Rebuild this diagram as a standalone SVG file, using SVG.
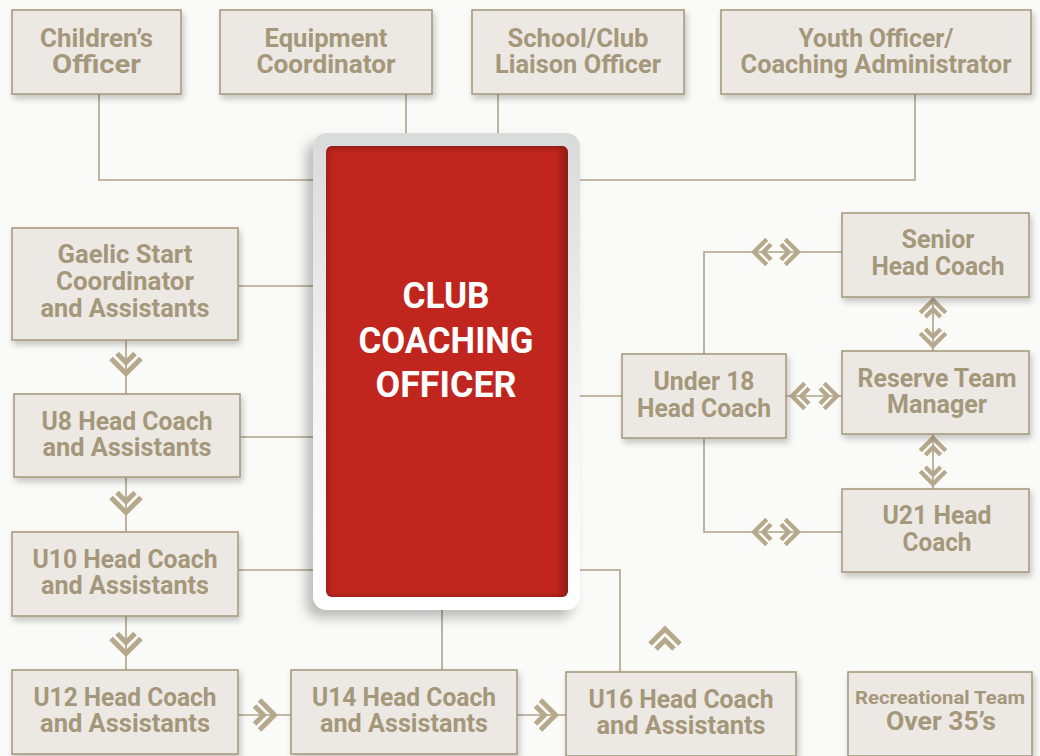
<svg xmlns="http://www.w3.org/2000/svg" width="1040" height="756" viewBox="0 0 1040 756">
<defs>
<style>
.bx{fill:#ECE9E4;stroke:#A89A7E;stroke-width:1.6;filter:url(#sh)}
.t{font-family:Roboto,"Liberation Sans",sans-serif;font-weight:700;font-size:25px;fill:#A5977A;text-anchor:middle}
.ts{font-size:19px}
.ct{font-family:Roboto,"Liberation Sans",sans-serif;font-weight:700;font-size:36px;fill:#FFFFFF;text-anchor:middle}
.ln{fill:none;stroke:#B0A388;stroke-width:1.6}
.ch{fill:none;stroke:#B5A88B;stroke-width:5;stroke-linejoin:miter;stroke-miterlimit:4}
</style>
<filter id="sh" x="-10%" y="-10%" width="125%" height="135%">
<feDropShadow dx="2" dy="4" stdDeviation="3" flood-color="#000" flood-opacity="0.22"/>
</filter>
<filter id="sh2" x="-20%" y="-10%" width="130%" height="125%">
<feDropShadow dx="-7" dy="8" stdDeviation="6" flood-color="#000" flood-opacity="0.25"/>
</filter>
<linearGradient id="gOut" x1="0" y1="0" x2="0" y2="1">
<stop offset="0" stop-color="#D9DADA"/>
<stop offset="0.55" stop-color="#F4F4F4"/>
<stop offset="1" stop-color="#FFFFFF"/>
</linearGradient>
<linearGradient id="gRed" x1="0" y1="0" x2="1" y2="0">
<stop offset="0" stop-color="#A61F19"/>
<stop offset="0.03" stop-color="#C1261E"/>
<stop offset="0.95" stop-color="#C1261E"/>
<stop offset="1" stop-color="#8E1C16"/>
</linearGradient>
<linearGradient id="gRedV" x1="0" y1="0" x2="0" y2="1">
<stop offset="0" stop-color="#7E1712" stop-opacity="0.7"/>
<stop offset="0.02" stop-color="#C1261E" stop-opacity="0"/>
<stop offset="0.985" stop-color="#C1261E" stop-opacity="0"/>
<stop offset="1" stop-color="#7E1712" stop-opacity="0.5"/>
</linearGradient>
<g id="chev" class="ch">
<polyline points="-15,-15 0,0 -15,15"/>
<polyline points="-20,-9 -11,0 -20,9"/>
</g>
</defs>
<rect x="0" y="0" width="1040" height="756" fill="#FAFAF8"/>

<g id="connectors">
<path class="ln" d="M99,94 V180 H313"/>
<path class="ln" d="M406,94 V133"/>
<path class="ln" d="M498,94 V133"/>
<path class="ln" d="M915,94 V180 H580"/>
<path class="ln" d="M238,286 H313"/>
<path class="ln" d="M240,437 H313"/>
<path class="ln" d="M238,570 H313"/>
<path class="ln" d="M580,396 H622"/>
<path class="ln" d="M580,570 H620 V672"/>
<path class="ln" d="M442,610 V670"/>
<path class="ln" d="M126,340 V394"/>
<path class="ln" d="M126,477 V532"/>
<path class="ln" d="M126,616 V670"/>
<path class="ln" d="M238,715 H291"/>
<path class="ln" d="M517,715 H566"/>
<path class="ln" d="M704,354 V252 H842"/>
<path class="ln" d="M704,438 V532 H842"/>
<path class="ln" d="M786,396 H842"/>
<path class="ln" d="M933,297 V351"/>
<path class="ln" d="M933,434 V489"/>
<use href="#chev" transform="translate(126,373.5) rotate(90)"/>
<use href="#chev" transform="translate(126,512.5) rotate(90)"/>
<use href="#chev" transform="translate(126,653.5) rotate(90)"/>
<use href="#chev" transform="translate(274.5,715)"/>
<use href="#chev" transform="translate(555.5,715)"/>
<use href="#chev" transform="translate(665,629) rotate(-90)"/>
<use href="#chev" transform="translate(754,252) rotate(180) scale(0.85)"/>
<use href="#chev" transform="translate(798,252) scale(0.85)"/>
<use href="#chev" transform="translate(754,532) rotate(180) scale(0.85)"/>
<use href="#chev" transform="translate(798,532) scale(0.85)"/>
<use href="#chev" transform="translate(792,396) rotate(180) scale(0.85)"/>
<use href="#chev" transform="translate(837,396) scale(0.85)"/>
<use href="#chev" transform="translate(933,300) rotate(-90) scale(0.85)"/>
<use href="#chev" transform="translate(933,346) rotate(90) scale(0.85)"/>
<use href="#chev" transform="translate(933,438) rotate(-90) scale(0.85)"/>
<use href="#chev" transform="translate(933,484) rotate(90) scale(0.85)"/>
</g>

<g id="n-childrens">
<rect class="bx" x="12" y="10" width="169" height="84"/>
<text class="t" x="96.5" y="47" textLength="113" lengthAdjust="spacingAndGlyphs">Children’s</text>
<text class="t" x="96.5" y="73" textLength="89" lengthAdjust="spacingAndGlyphs">Officer</text>
</g>
<g id="n-equipment">
<rect class="bx" x="220" y="10" width="212" height="84"/>
<text class="t" x="326" y="47" textLength="123" lengthAdjust="spacingAndGlyphs">Equipment</text>
<text class="t" x="326" y="73" textLength="139" lengthAdjust="spacingAndGlyphs">Coordinator</text>
</g>
<g id="n-school">
<rect class="bx" x="472" y="10" width="212" height="84"/>
<text class="t" x="578" y="47" textLength="141" lengthAdjust="spacingAndGlyphs">School/Club</text>
<text class="t" x="578" y="73" textLength="166" lengthAdjust="spacingAndGlyphs">Liaison Officer</text>
</g>
<g id="n-youth">
<rect class="bx" x="721" y="10" width="310" height="84"/>
<text class="t" x="876" y="47" textLength="155" lengthAdjust="spacingAndGlyphs">Youth Officer/</text>
<text class="t" x="876" y="73" textLength="271" lengthAdjust="spacingAndGlyphs">Coaching Administrator</text>
</g>

<g id="n-cco">
<rect x="313" y="133" width="267" height="477" rx="14" fill="url(#gOut)" filter="url(#sh2)"/>
<rect x="326" y="146" width="242" height="451" rx="6" fill="url(#gRed)"/>
<rect x="326" y="146" width="242" height="451" rx="6" fill="url(#gRedV)"/>
<text class="ct" x="446" y="308" textLength="87" lengthAdjust="spacingAndGlyphs">CLUB</text>
<text class="ct" x="446" y="353" textLength="175" lengthAdjust="spacingAndGlyphs">COACHING</text>
<text class="ct" x="446" y="397" textLength="141" lengthAdjust="spacingAndGlyphs">OFFICER</text>
</g>

<g id="n-gaelic">
<rect class="bx" x="12" y="228" width="226" height="112"/>
<text class="t" x="125" y="263" textLength="135" lengthAdjust="spacingAndGlyphs">Gaelic Start</text>
<text class="t" x="125" y="290" textLength="138" lengthAdjust="spacingAndGlyphs">Coordinator</text>
<text class="t" x="125" y="317" textLength="169" lengthAdjust="spacingAndGlyphs">and Assistants</text>
</g>
<g id="n-u8">
<rect class="bx" x="14" y="394" width="226" height="83"/>
<text class="t" x="127" y="430" textLength="171" lengthAdjust="spacingAndGlyphs">U8 Head Coach</text>
<text class="t" x="127" y="456" textLength="169" lengthAdjust="spacingAndGlyphs">and Assistants</text>
</g>
<g id="n-u10">
<rect class="bx" x="12" y="532" width="226" height="84"/>
<text class="t" x="125" y="568" textLength="185" lengthAdjust="spacingAndGlyphs">U10 Head Coach</text>
<text class="t" x="125" y="594" textLength="168" lengthAdjust="spacingAndGlyphs">and Assistants</text>
</g>
<g id="n-u12">
<rect class="bx" x="12" y="670" width="226" height="84"/>
<text class="t" x="125" y="706" textLength="183" lengthAdjust="spacingAndGlyphs">U12 Head Coach</text>
<text class="t" x="125" y="732" textLength="170" lengthAdjust="spacingAndGlyphs">and Assistants</text>
</g>
<g id="n-u14">
<rect class="bx" x="291" y="670" width="226" height="84"/>
<text class="t" x="404" y="706" textLength="184" lengthAdjust="spacingAndGlyphs">U14 Head Coach</text>
<text class="t" x="404" y="732" textLength="168" lengthAdjust="spacingAndGlyphs">and Assistants</text>
</g>
<g id="n-u16">
<rect class="bx" x="566" y="672" width="230" height="84"/>
<text class="t" x="681" y="708" textLength="185" lengthAdjust="spacingAndGlyphs">U16 Head Coach</text>
<text class="t" x="681" y="734" textLength="169" lengthAdjust="spacingAndGlyphs">and Assistants</text>
</g>
<g id="n-recreational">
<rect class="bx" x="848" y="672" width="184" height="84"/>
<text class="t ts" x="940" y="704" textLength="170" lengthAdjust="spacingAndGlyphs">Recreational Team</text>
<text class="t" x="941" y="730" textLength="110" lengthAdjust="spacingAndGlyphs">Over 35’s</text>
</g>

<g id="n-under18">
<rect class="bx" x="622" y="354" width="164" height="84"/>
<text class="t" x="704" y="390" textLength="101" lengthAdjust="spacingAndGlyphs">Under 18</text>
<text class="t" x="704" y="417" textLength="134" lengthAdjust="spacingAndGlyphs">Head Coach</text>
</g>
<g id="n-senior">
<rect class="bx" x="842" y="213" width="187" height="84"/>
<text class="t" x="938" y="248" textLength="73" lengthAdjust="spacingAndGlyphs">Senior</text>
<text class="t" x="938" y="275" textLength="133" lengthAdjust="spacingAndGlyphs">Head Coach</text>
</g>
<g id="n-reserve">
<rect class="bx" x="842" y="351" width="187" height="83"/>
<text class="t" x="937" y="387" textLength="159" lengthAdjust="spacingAndGlyphs">Reserve Team</text>
<text class="t" x="937" y="413" textLength="100" lengthAdjust="spacingAndGlyphs">Manager</text>
</g>
<g id="n-u21">
<rect class="bx" x="842" y="489" width="187" height="83"/>
<text class="t" x="937" y="524" textLength="109" lengthAdjust="spacingAndGlyphs">U21 Head</text>
<text class="t" x="937" y="551" textLength="69" lengthAdjust="spacingAndGlyphs">Coach</text>
</g>
</svg>
